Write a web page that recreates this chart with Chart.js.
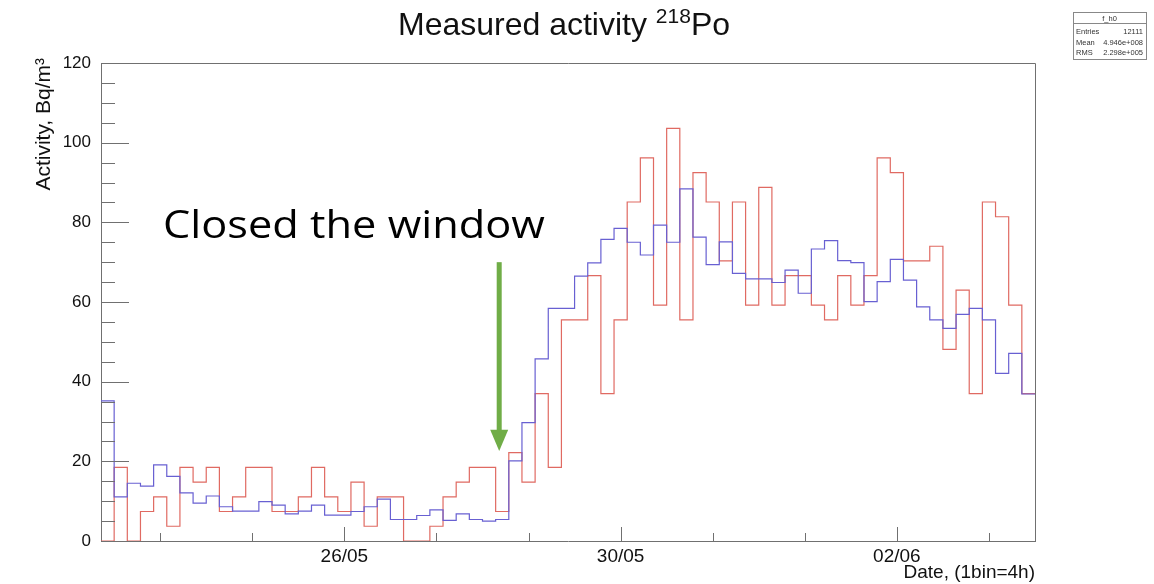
<!DOCTYPE html>
<html><head><meta charset="utf-8">
<script src="https://cdn.jsdelivr.net/npm/chart.js@4.4.1/dist/chart.umd.min.js"></script>
<style>html,body{margin:0;padding:0;background:#fff;}#wrap{width:1154px;height:584px;position:relative;}</style>
</head><body><div id="wrap"><canvas id="c" width="1154" height="584"></canvas></div>
<script>
// ---- data (one value per 4-hour bin) ----
const binCount = 71;
const blueValues = [35.2,11.1,14.5,13.8,19.1,16.2,12.1,9.5,11.3,8.6,
  7.5,7.5,9.9,9.0,6.8,7.5,9.0,6.5,6.5,7.4,
  8.6,10.5,5.4,5.4,6.4,7.8,5.2,6.8,5.4,5.0,
  5.4,20.1,29.7,45.7,58.4,58.4,66.5,69.8,75.7,78.5,
  75.0,71.8,79.3,75.0,88.4,76.3,69.4,75.1,67.2,65.8,
  65.8,64.9,68.0,62.2,73.3,75.4,70.4,69.9,60.1,65.1,
  70.7,65.5,58.8,55.5,53.4,56.9,58.4,55.5,42.1,47.1,
  36.9];
const redValues = [0,18.5,0,7.4,11.1,3.7,18.5,14.8,18.5,7.4,
  11.1,18.5,18.5,7.4,7.4,11.1,18.5,11.1,7.4,14.8,
  3.7,11.1,11.1,0,0,3.7,11.1,14.8,18.5,18.5,
  7.4,22.2,14.8,37.0,18.5,55.5,55.5,66.6,37.0,55.5,
  85.1,96.2,59.2,103.6,55.5,92.5,85.1,70.3,85.1,59.2,
  88.8,59.2,66.6,66.6,59.2,55.5,66.6,59.2,66.6,96.2,
  92.5,70.3,70.3,74.0,48.1,63.0,37.0,85.1,81.4,59.2,
  37.0];
const yTickValues = [0,20,40,60,80,100,120];
const xMajorTickBins = [18.5,39.5,60.5];
const xTickLabels = ['26/05','30/05','02/06'];
const xMinorTickBins = [4.5,11.5,25.5,32.5,46.5,53.5,67.5];
const statsRows = [['Entries','12111'],['Mean','4.946e+008'],['RMS','2.298e+005']];
const annotationText = 'Closed the window';
const arrowBin = 30.27, arrowTop = 70.0, arrowTip = 22.6, arrowHeadBase = 27.9;
const textBin = 4.71, textBaseValue = 76.1;

function stepPoints(vals){
  const pts = vals.map((v,i)=>({x:i,y:v}));
  pts.push({x:vals.length,y:vals[vals.length-1]});
  return pts;
}

const AXIS = '#707070';
const FONT = '"Liberation Sans", Arial, sans-serif';

const decor = {
  id:'decor',
  afterDraw(chart){
    const ctx = chart.ctx, a = chart.chartArea;
    const xs = chart.scales.x, ys = chart.scales.y;
    ctx.save();
    // frame top/right
    ctx.strokeStyle = AXIS; ctx.lineWidth = 1;
    ctx.beginPath();
    ctx.moveTo(a.left, a.top+0.5); ctx.lineTo(a.right+0.5, a.top+0.5); ctx.lineTo(a.right+0.5, a.bottom);
    ctx.stroke();
    // y ticks (inside)
    ctx.beginPath();
    for (let v=0; v<=120; v+=5){
      const y = Math.round(ys.getPixelForValue(v))+0.5;
      const len = (yTickValues.includes(v)) ? 28 : 14;
      ctx.moveTo(a.left, y); ctx.lineTo(a.left+len, y);
    }
    // x ticks
    xMajorTickBins.forEach(b=>{const x=Math.round(xs.getPixelForValue(b))+0.5; ctx.moveTo(x,a.bottom); ctx.lineTo(x,a.bottom-14);});
    xMinorTickBins.forEach(b=>{const x=Math.round(xs.getPixelForValue(b))+0.5; ctx.moveTo(x,a.bottom); ctx.lineTo(x,a.bottom-8);});
    ctx.stroke();

    // title
    ctx.fillStyle = '#111';
    const T = 32, S = 21;
    ctx.font = T+'px '+FONT;
    const w1 = ctx.measureText('Measured activity ').width;
    const w3 = ctx.measureText('Po').width;
    ctx.font = S+'px '+FONT;
    const w2 = ctx.measureText('218').width;
    const total = w1+w2+w3;
    let tx = 564 - total/2; const tb = 35;
    ctx.textBaseline='alphabetic'; ctx.textAlign='left';
    ctx.font = T+'px '+FONT; ctx.fillText('Measured activity ', tx, tb); tx+=w1;
    ctx.font = S+'px '+FONT; ctx.fillText('218', tx, tb-12); tx+=w2;
    ctx.font = T+'px '+FONT; ctx.fillText('Po', tx, tb);

    // y axis title
    ctx.save();
    ctx.translate(50, 58);
    ctx.rotate(-Math.PI/2);
    ctx.font = '21px '+FONT; ctx.textAlign='right';
    ctx.fillStyle='#111';
    ctx.fillText('Activity, Bq/m³', 0, 0);
    ctx.restore();

    // x axis title
    ctx.font = '19px '+FONT; ctx.textAlign='right'; ctx.fillStyle='#111';
    ctx.fillText('Date, (1bin=4h)', a.right, 578);

    // stats box
    const bx=1073, by=12, bw=73, bh=47;
    ctx.fillStyle='#fff'; ctx.fillRect(bx,by,bw,bh);
    ctx.strokeStyle='#888'; ctx.lineWidth=1;
    ctx.strokeRect(bx+0.5,by+0.5,bw,bh);
    ctx.beginPath(); ctx.moveTo(bx, by+11.5); ctx.lineTo(bx+bw, by+11.5); ctx.stroke();
    ctx.fillStyle='#333'; ctx.font='7.5px '+FONT;
    ctx.textAlign='center'; ctx.fillText('f_h0', bx+bw/2, by+9);
    statsRows.forEach((r,i)=>{
      const yy = by+22+i*10.5;
      ctx.textAlign='left'; ctx.fillText(r[0], bx+3, yy);
      ctx.textAlign='right'; ctx.fillText(r[1], bx+bw-3, yy);
    });

    // annotation text
    ctx.fillStyle='#000';
    ctx.font = '38px "Open Sans", "Noto Sans", sans-serif';
    ctx.textAlign='left';
    const tw = ctx.measureText(annotationText).width;
    const txp = xs.getPixelForValue(textBin), typ = ys.getPixelForValue(textBaseValue);
    ctx.save(); ctx.translate(txp, typ); ctx.scale(382/tw, 1); ctx.fillText(annotationText, 0, 0); ctx.restore();

    // arrow
    const ax = xs.getPixelForValue(arrowBin);
    const y0 = ys.getPixelForValue(arrowTop), y1 = ys.getPixelForValue(arrowHeadBase), y2 = ys.getPixelForValue(arrowTip);
    ctx.fillStyle='#70ad47';
    ctx.fillRect(ax-2.5, y0, 5, y1-y0+1);
    ctx.beginPath(); ctx.moveTo(ax-9, y1); ctx.lineTo(ax+9, y1); ctx.lineTo(ax, y2); ctx.closePath(); ctx.fill();
    ctx.restore();
  }
};

new Chart(document.getElementById('c'), {
  type:'line',
  data:{datasets:[
    {label:'blue', data:stepPoints(blueValues), stepped:'before', borderColor:'#6860d2', borderWidth:1.2, pointRadius:0, fill:false},
    {label:'red', data:stepPoints(redValues), stepped:'before', borderColor:'#e06a62', borderWidth:1.2, pointRadius:0, fill:false}
  ]},
  options:{
    responsive:false, animation:false, devicePixelRatio:1,
    layout:{padding:{left:0,top:63,right:119,bottom:0}},
    plugins:{legend:{display:false},tooltip:{enabled:false},title:{display:false}},
    scales:{
      x:{type:'linear', min:0, max:binCount,
        grid:{display:false, drawTicks:false},
        border:{display:true,color:AXIS,width:1},
        afterBuildTicks:(s)=>{s.ticks = xMajorTickBins.map(v=>({value:v}));},
        afterFit:(s)=>{s.height=43;},
        ticks:{autoSkip:false,maxRotation:0,padding:4,color:'#111',font:{family:FONT,size:19},
          callback:(v,i)=>xTickLabels[i]}
      },
      y:{type:'linear', min:0, max:120,
        grid:{display:false, drawTicks:false},
        border:{display:true,color:AXIS,width:1},
        afterBuildTicks:(s)=>{s.ticks = yTickValues.map(v=>({value:v}));},
        afterFit:(s)=>{s.width=101;},
        ticks:{padding:10,color:'#111',font:{family:FONT,size:17}}
      }
    }
  },
  plugins:[decor]
});
</script></body></html>
